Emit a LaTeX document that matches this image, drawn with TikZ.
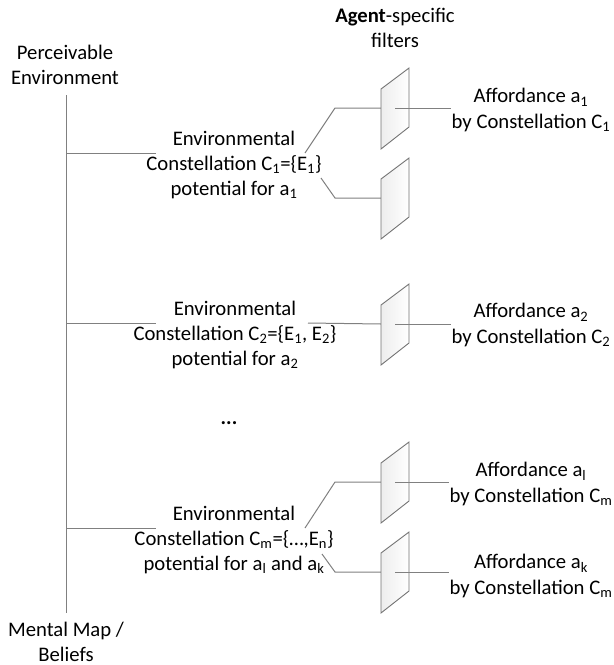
\documentclass[tikz,border=0pt]{standalone}
\usepackage{fontspec}
\setmainfont{Carlito}
\usepackage{xcolor}
\usetikzlibrary{calc}
\definecolor{linegray}{RGB}{128,128,128}
\definecolor{filteredge}{RGB}{115,115,115}
\newcommand{\textsize}{\fontsize{20.7}{25.2}\selectfont}
\newcommand{\agentfilter}[1]{%
    \path[filterface] ($(#1)+(-14,-19)$) -- ($(#1)+(14,-40)$) -- ($(#1)+(14,19)$) -- ($(#1)+(-14,41)$) -- cycle;}

\begin{document}
\begin{tikzpicture}[x=1pt,y=-1pt,
        link/.style={draw=linegray,line width=1pt},
        filterface/.style={draw=filteredge,line width=0.9pt,left color=gray!14,right color=white}]
                \useasboundingbox (0,0) rectangle (614,665);

                \begin{scope}[every node/.style={align=center,font=\textsize,inner sep=0pt}]
                    \node (perc) at (65,65) {Perceivable\\Environment};
                    \node (mmap) at (66,642) {Mental Map /\\Beliefs};
                    \node (agent) at (395,28) {\textbf{Agent}-specific\\filters};
                    \node (env1) at (234,165) {Environmental\\Constellation C\textsubscript{1}=\{E\textsubscript{1}\}\\potential for a\textsubscript{1}};
                    \node (env2) at (235,335) {Environmental\\Constellation C\textsubscript{2}=\{E\textsubscript{1}, E\textsubscript{2}\}\\potential for a\textsubscript{2}};
                    \node (env3) at (234,540) {Environmental\\Constellation C\textsubscript{m}=\{\dots,E\textsubscript{n}\}\\potential for a\textsubscript{l} and a\textsubscript{k}};
                    \node (dots) at (229,423) {\textbf{...}};
                    \node (aff1) at (531,110) {Affordance a\textsubscript{1}\\by Constellation C\textsubscript{1}};
                    \node (aff2) at (531,325) {Affordance a\textsubscript{2}\\by Constellation C\textsubscript{2}};
                    \node (affl) at (531,484) {Affordance a\textsubscript{l}\\by Constellation C\textsubscript{m}};
                    \node (affk) at (531,576) {Affordance a\textsubscript{k}\\by Constellation C\textsubscript{m}};
                \end{scope}

                % filter centres
                \coordinate (f1) at (395,108);
                \coordinate (f1b) at (395,198);
                \coordinate (f2) at (395,324);
                \coordinate (f3) at (395,482);
                \coordinate (f4) at (395,572);
                \coordinate (top) at (66,95);
                \coordinate (bot) at (66,613);

                \draw[link] (top) -- (bot);
                \draw[link] ($(top |- env1)+(0,-12)$) -- ($(env1)+(-78,-12)$);
                \draw[link] ($(top |- env2)+(0,-12)$) -- ($(env2)+(-79,-12)$);
                \draw[link] ($(top |- env3)+(0,-12)$) -- ($(env3)+(-78,-12)$);

                \draw[link] ($(env1)+(71,-12)$) -- ($(f1)+(-60,0)$) -- ($(f1)+(-14,0)$);
                \draw[link] ($(env1)+(87,13)$) -- ($(f1b)+(-60,0)$) -- ($(f1b)+(-14,0)$);
                \draw[link] ($(env2)+(73,-12)$) -- ($(f2)+(-14,0)$);
                \draw[link] ($(env3)+(71,-12)$) -- ($(f3)+(-60,0)$) -- ($(f3)+(-14,0)$);
                \draw[link] ($(env3)+(88,14)$) -- ($(f4)+(-60,0)$) -- ($(f4)+(-14,0)$);

                \agentfilter{f1}
                \agentfilter{f1b}
                \agentfilter{f2}
                \agentfilter{f3}
                \agentfilter{f4}

                \draw[link] (f1) -- (aff1.west |- f1);
                \draw[link] (f2) -- (aff2.west |- f2);
                \draw[link] (f3) -- (affl.west |- f3);
                \draw[link] (f4) -- (affk.west |- f4);
            \end{tikzpicture}
\end{document}
